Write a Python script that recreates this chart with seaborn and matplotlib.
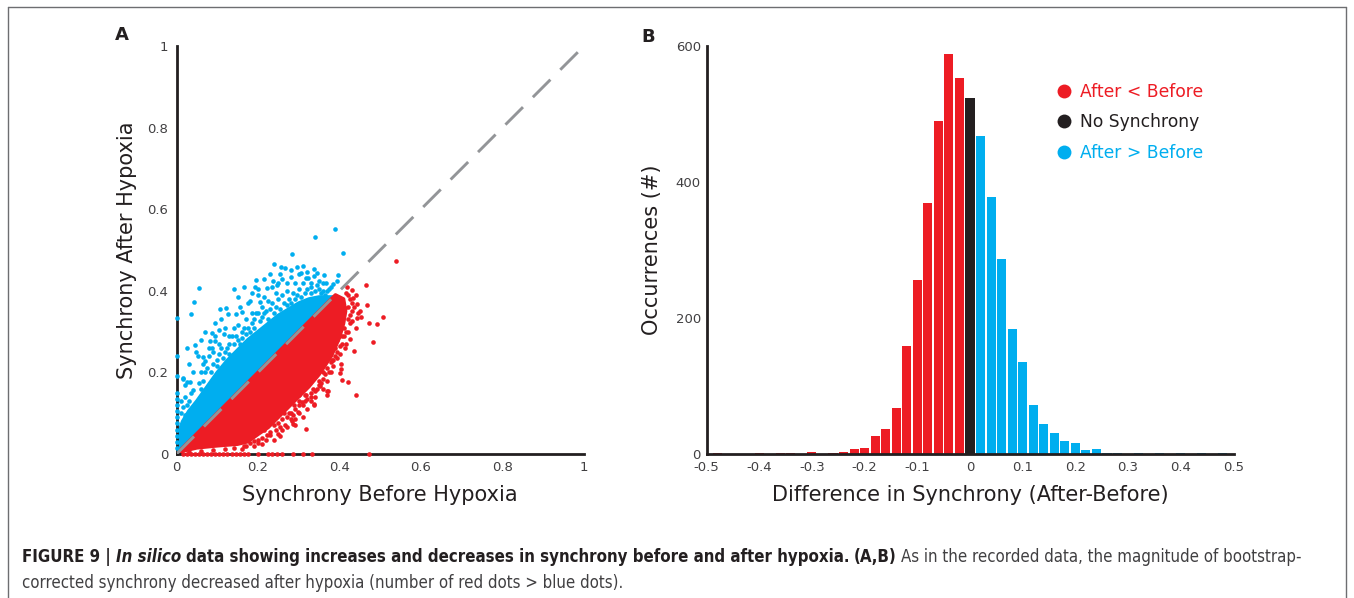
import numpy as np
import pandas as pd
import matplotlib
matplotlib.use("Agg")
import matplotlib.pyplot as plt
import seaborn as sns
from matplotlib.lines import Line2D
from matplotlib import font_manager

# ---------------- data ----------------
RED = "#ED1C24"
BLUE = "#00AEEF"
BLACK = "#231F20"
GRAY = "#939598"

# Panel A: dense cores (edges)
blue_core_edge = [(0.004, 0.012), (0.004, 0.05), (0.015, 0.08), (0.03, 0.105), (0.05, 0.13),
                  (0.075, 0.165), (0.10, 0.20), (0.125, 0.23), (0.15, 0.255), (0.175, 0.28),
                  (0.20, 0.30), (0.225, 0.32), (0.25, 0.34), (0.275, 0.355), (0.30, 0.37),
                  (0.325, 0.38), (0.35, 0.385), (0.375, 0.385), (0.385, 0.385)]
red_core_edge = [(0.39, 0.39), (0.41, 0.38), (0.415, 0.35), (0.41, 0.32), (0.40, 0.285),
                 (0.38, 0.24), (0.35, 0.195), (0.325, 0.165), (0.30, 0.14), (0.275, 0.115),
                 (0.25, 0.09), (0.225, 0.065), (0.20, 0.048), (0.175, 0.03), (0.15, 0.024),
                 (0.10, 0.02), (0.05, 0.015), (0.02, 0.008), (0.008, 0.004)]

blue_points = [
    (0.000, 0.333), (0.000, 0.239), (0.000, 0.190), (0.000, 0.150), (0.000, 0.135), (0.000, 0.120),
    (0.000, 0.105), (0.000, 0.090), (0.000, 0.075), (0.000, 0.060), (0.000, 0.045), (0.000, 0.030),
    (0.000, 0.015), (0.035, 0.343), (0.043, 0.373), (0.054, 0.407), (0.045, 0.267), (0.049, 0.250),
    (0.052, 0.239), (0.016, 0.186), (0.026, 0.177), (0.017, 0.185), (0.021, 0.169), (0.033, 0.177),
    (0.041, 0.157), (0.021, 0.140), (0.017, 0.116), (0.021, 0.096), (0.013, 0.071), (0.066, 0.238),
    (0.070, 0.228), (0.086, 0.259), (0.094, 0.276), (0.083, 0.276), (0.088, 0.296), (0.104, 0.304),
    (0.095, 0.289), (0.117, 0.294), (0.137, 0.288), (0.107, 0.355), (0.121, 0.359), (0.127, 0.342),
    (0.145, 0.343), (0.160, 0.347), (0.141, 0.404), (0.165, 0.410), (0.151, 0.386), (0.185, 0.395),
    (0.180, 0.375), (0.205, 0.372), (0.193, 0.410), (0.194, 0.426), (0.223, 0.407), (0.234, 0.410),
    (0.246, 0.414), (0.238, 0.424), (0.250, 0.420), (0.270, 0.418), (0.229, 0.440), (0.240, 0.466),
    (0.256, 0.459), (0.266, 0.457), (0.296, 0.459), (0.283, 0.489), (0.281, 0.435), (0.306, 0.443),
    (0.318, 0.431), (0.321, 0.445), (0.337, 0.454), (0.322, 0.432), (0.337, 0.436), (0.346, 0.443),
    (0.361, 0.439), (0.397, 0.439), (0.393, 0.424), (0.385, 0.416), (0.367, 0.419), (0.389, 0.551),
    (0.340, 0.532), (0.408, 0.493), (0.060, 0.200), (0.075, 0.210), (0.100, 0.230), (0.120, 0.250),
    (0.130, 0.270), (0.150, 0.280), (0.160, 0.300), (0.175, 0.310), (0.190, 0.330), (0.200, 0.345),
    (0.210, 0.360), (0.220, 0.350), (0.235, 0.370), (0.250, 0.380), (0.260, 0.390), (0.270, 0.400),
    (0.285, 0.395), (0.300, 0.405), (0.310, 0.420), (0.330, 0.410), (0.350, 0.405), (0.360, 0.400),
    (0.375, 0.405), (0.110, 0.260), (0.140, 0.310), (0.170, 0.330), (0.215, 0.385), (0.245, 0.395),
    (0.290, 0.420), (0.040, 0.200), (0.055, 0.175), (0.030, 0.130), (0.080, 0.240), (0.200, 0.390),
    (0.260, 0.430), (0.310, 0.460), (0.350, 0.425), (0.380, 0.410), (0.120, 0.310), (0.090, 0.250),
    (0.010, 0.100), (0.010, 0.130), (0.025, 0.120), (0.035, 0.150), (0.045, 0.120), (0.060, 0.160),
    (0.065, 0.180), (0.070, 0.200), (0.085, 0.200), (0.090, 0.220), (0.100, 0.215), (0.105, 0.245),
    (0.115, 0.235), (0.125, 0.260), (0.130, 0.245), (0.140, 0.270), (0.145, 0.290), (0.155, 0.270),
    (0.160, 0.285), (0.165, 0.310), (0.170, 0.295), (0.180, 0.300), (0.185, 0.320), (0.190, 0.310),
    (0.195, 0.345), (0.205, 0.325), (0.210, 0.335), (0.215, 0.345), (0.225, 0.330), (0.230, 0.355),
    (0.240, 0.345), (0.245, 0.360), (0.255, 0.355), (0.265, 0.370), (0.270, 0.365), (0.275, 0.380),
    (0.280, 0.370), (0.290, 0.380), (0.295, 0.390), (0.305, 0.385), (0.315, 0.395), (0.320, 0.405),
    (0.330, 0.395), (0.340, 0.400), (0.345, 0.415), (0.355, 0.395), (0.365, 0.390), (0.370, 0.400),
    (0.225, 0.375), (0.185, 0.345), (0.150, 0.315), (0.130, 0.290), (0.105, 0.270), (0.065, 0.220),
    (0.080, 0.260), (0.095, 0.320), (0.110, 0.330), (0.155, 0.360), (0.175, 0.370), (0.200, 0.405),
    (0.215, 0.430), (0.255, 0.440), (0.280, 0.450), (0.300, 0.440), (0.330, 0.420), (0.360, 0.420),
    (0.060, 0.280), (0.070, 0.300), (0.030, 0.220), (0.025, 0.260),
]
red_points = [
    (0.538, 0.472), (0.465, 0.413), (0.419, 0.409), (0.430, 0.402), (0.467, 0.364), (0.442, 0.367),
    (0.434, 0.383), (0.413, 0.359), (0.453, 0.337), (0.444, 0.333), (0.473, 0.322), (0.493, 0.318),
    (0.507, 0.337), (0.482, 0.275), (0.436, 0.252), (0.426, 0.282), (0.405, 0.288), (0.404, 0.220),
    (0.404, 0.208), (0.402, 0.198), (0.405, 0.181), (0.422, 0.177), (0.440, 0.145), (0.369, 0.154),
    (0.370, 0.145), (0.340, 0.140), (0.319, 0.145), (0.337, 0.120), (0.317, 0.061), (0.382, 0.230),
    (0.353, 0.167), (0.255, 0.045), (0.287, 0.073), (0.301, 0.100), (0.280, 0.086), (0.338, 0.123),
    (0.371, 0.155), (0.414, 0.260), (0.283, 0.081), (0.266, 0.071), (0.291, 0.071), (0.254, 0.067),
    (0.270, 0.067), (0.229, 0.047), (0.221, 0.047), (0.246, 0.096), (0.262, 0.104), (0.288, 0.120),
    (0.299, 0.103), (0.307, 0.127), (0.180, 0.026), (0.189, 0.032), (0.410, 0.310), (0.420, 0.300),
    (0.430, 0.350), (0.420, 0.390), (0.415, 0.270), (0.395, 0.235), (0.380, 0.200), (0.360, 0.185),
    (0.345, 0.160), (0.330, 0.150), (0.315, 0.130), (0.300, 0.120), (0.275, 0.100), (0.260, 0.085),
    (0.240, 0.070), (0.215, 0.060), (0.200, 0.035), (0.390, 0.260), (0.400, 0.245), (0.370, 0.180),
    (0.350, 0.170), (0.320, 0.110), (0.310, 0.090), (0.240, 0.035), (0.165, 0.020), (0.210, 0.025),
    (0.450, 0.350), (0.425, 0.320), (0.440, 0.310), (0.385, 0.215), (0.360, 0.160),
    (0.030, 0.005), (0.060, 0.008), (0.090, 0.010), (0.120, 0.012), (0.140, 0.015), (0.160, 0.012),
    (0.170, 0.020), (0.190, 0.020), (0.200, 0.028), (0.220, 0.035), (0.230, 0.055), (0.245, 0.060),
    (0.250, 0.075), (0.260, 0.060), (0.270, 0.090), (0.280, 0.100), (0.285, 0.095), (0.290, 0.110),
    (0.300, 0.130), (0.310, 0.120), (0.315, 0.145), (0.320, 0.135), (0.330, 0.140), (0.335, 0.160),
    (0.340, 0.155), (0.350, 0.180), (0.355, 0.175), (0.360, 0.200), (0.365, 0.195), (0.370, 0.210),
    (0.375, 0.200), (0.380, 0.225), (0.385, 0.230), (0.390, 0.240), (0.395, 0.250), (0.400, 0.265),
    (0.405, 0.270), (0.410, 0.290), (0.415, 0.300), (0.420, 0.330), (0.425, 0.340), (0.420, 0.360),
    (0.425, 0.380), (0.415, 0.395), (0.430, 0.370), (0.435, 0.360), (0.445, 0.345), (0.330, 0.130),
    (0.290, 0.085), (0.250, 0.050), (0.210, 0.040), (0.235, 0.080), (0.265, 0.100), (0.300, 0.145),
    (0.340, 0.190), (0.375, 0.250), (0.395, 0.280), (0.430, 0.325), (0.440, 0.390), (0.400, 0.310),
]
red_zero_x = [0.015, 0.025, 0.035, 0.045, 0.055, 0.065, 0.075, 0.085, 0.095, 0.105, 0.115, 0.125,
              0.135, 0.145, 0.155, 0.165, 0.175, 0.200, 0.225, 0.234, 0.246, 0.258, 0.287, 0.310,
              0.333, 0.472]

# Panel B: histogram of differences (bin centres -0.50 .. 0.50, step 0.02)
diff_centers = np.round(np.linspace(-0.50, 0.50, 51), 2)
diff_counts = [0, 1, 0, 0, 0, 1, 0, 1, 1, 0,        # -0.50 .. -0.32
               3, 0, 2, 3, 8, 9, 26, 37, 68, 159,    # -0.30 .. -0.12
               256, 369, 490, 588, 553, 524,         # -0.10 .. 0.00
               468, 378, 287, 184, 135, 72, 44, 31, 19, 16, 6, 7,   # 0.02 .. 0.24
               1, 1, 0, 1, 0, 1, 0, 1, 0, 1, 0, 1, 0]               # 0.26 .. 0.50
hist_xticks = [-0.5, -0.4, -0.3, -0.2, -0.1, 0.0, 0.1, 0.2, 0.3, 0.4, 0.5]
hist_xticklabels = ["-0.5", "-0.4", "-0.3", "-0.2", "-0.1", "0", "0.1", "0.2", "0.3", "0.4", "0.5"]
hist_yticks = [0, 200, 400, 600]
scatter_ticks = [0, 0.2, 0.4, 0.6, 0.8, 1.0]
scatter_ticklabels = ["0", "0.2", "0.4", "0.6", "0.8", "1"]
legend_labels = ["After < Before", "No Synchrony", "After > Before"]

# ---------------- figure ----------------
sns.set_style("white")
plt.rcParams["font.family"] = ["DejaVu Sans"]
fig = plt.figure(figsize=(13.54, 5.98), dpi=100)
W, H = 1354, 598

ax1 = fig.add_axes([176.5 / W, (H - 454) / H, 407.5 / W, 408 / H])
ax2 = fig.add_axes([706.5 / W, (H - 454) / H, 527 / W, 408 / H])

# ---- Panel A ----
bx = [p[0] for p in blue_core_edge] + [0.385, 0.004]
by = [p[1] for p in blue_core_edge] + [0.385, 0.004]
ax1.fill(bx, by, color=BLUE, lw=2.5, joinstyle="round", zorder=1)
rx = [p[0] for p in red_core_edge] + [0.008]
ry = [p[1] for p in red_core_edge] + [0.008]
ax1.fill(rx, ry, color=RED, lw=2.5, joinstyle="round", zorder=1)

df_b = pd.DataFrame(blue_points, columns=["before", "after"])
df_r = pd.DataFrame(red_points, columns=["before", "after"])
df_r0 = pd.DataFrame({"before": red_zero_x, "after": [0.0] * len(red_zero_x)})
for d, c in [(df_b, BLUE), (df_r, RED), (df_r0, RED)]:
    sns.scatterplot(data=d, x="before", y="after", color=c, s=11, linewidth=0,
                    ax=ax1, clip_on=False, zorder=6)
ax1.axline((0, 0), slope=1, color=GRAY, lw=2.1, dashes=(8.5, 4.8), zorder=7)

ax1.set_xlim(0, 1)
ax1.set_ylim(0, 1)
ax1.set_xticks(scatter_ticks)
ax1.set_xticklabels(scatter_ticklabels)
ax1.set_yticks(scatter_ticks)
ax1.set_yticklabels(scatter_ticklabels)
ax1.set_xlabel("Synchrony Before Hypoxia", fontsize=15, color=BLACK, labelpad=8)
ax1.set_ylabel("Synchrony After Hypoxia", fontsize=15, color=BLACK, labelpad=7)

# ---- Panel B ----
groups = []
for c in diff_centers:
    if abs(c) < 1e-9:
        groups.append("No Synchrony")
    elif c < 0:
        groups.append("After < Before")
    else:
        groups.append("After > Before")
df_h = pd.DataFrame({"diff": diff_centers, "count": diff_counts, "group": groups})
palette = {"After < Before": RED, "No Synchrony": BLACK, "After > Before": BLUE}
sns.histplot(data=df_h, x="diff", weights="count", hue="group", binwidth=0.02,
             binrange=(-0.51, 0.51), palette=palette, hue_order=legend_labels, alpha=1,
             linewidth=0, shrink=0.86, legend=False, ax=ax2, zorder=2)
ax2.set_xlim(-0.5, 0.5)
ax2.set_ylim(0, 600)
ax2.set_xticks(hist_xticks)
ax2.set_xticklabels(hist_xticklabels)
ax2.set_yticks(hist_yticks)
ax2.set_yticklabels([str(v) for v in hist_yticks])
ax2.set_xlabel("Difference in Synchrony (After-Before)", fontsize=15, color=BLACK, labelpad=8)
ax2.set_ylabel("Occurrences (#)", fontsize=15, color=BLACK, labelpad=10)

handles = [Line2D([], [], ls="", marker="o", markersize=10, color=c, markeredgewidth=0)
           for c in [RED, BLACK, BLUE]]
ax2.legend(handles, legend_labels, loc="upper left", bbox_to_anchor=(0.643, 0.93),
           frameon=False, fontsize=12.3, labelcolor=[RED, BLACK, BLUE],
           handletextpad=0.3, labelspacing=0.72, handlelength=1.2, borderpad=0)

for ax, pad in [(ax1, 6), (ax2, 4)]:
    for s in ["top", "right"]:
        ax.spines[s].set_visible(False)
    for s in ["left", "bottom"]:
        ax.spines[s].set_color(BLACK)
        ax.spines[s].set_linewidth(2.0)
        ax.spines[s].set_zorder(5)
    ax.tick_params(axis="both", direction="in", length=4, width=2, color=BLACK,
                   labelsize=9.5, labelcolor="#414042")
    ax.tick_params(axis="y", pad=pad)
    ax.tick_params(axis="x", pad=5)
    ax.grid(False)

# panel letters
fig.text(122 / W, 1 - 35 / H, "A", fontsize=13, fontweight="bold", color=BLACK,
         ha="center", va="center")
fig.text(648 / W, 1 - 37 / H, "B", fontsize=13, fontweight="bold", color=BLACK,
         ha="center", va="center")

# frame
frame_kw = dict(color="#6D6E71", lw=1.0, transform=fig.transFigure)
fig.add_artist(Line2D([8 / W, 8 / W], [0, 1 - 7 / H], **frame_kw))
fig.add_artist(Line2D([1346 / W, 1346 / W], [0, 1 - 7 / H], **frame_kw))
fig.add_artist(Line2D([8 / W, 1346 / W], [1 - 7 / H, 1 - 7 / H], **frame_kw))

# caption
names = {f.name for f in font_manager.fontManager.ttflist}
cond_dejavu = any(f.name == "DejaVu Sans" and str(f.stretch) in ("condensed", "semi-condensed")
                  for f in font_manager.fontManager.ttflist)
if "Liberation Sans Narrow" in names:
    cap_family, cap_stretch = "Liberation Sans Narrow", "normal"
elif cond_dejavu:
    cap_family, cap_stretch = "DejaVu Sans", "condensed"
else:
    cap_family, cap_stretch = "Liberation Sans", "normal"
line1 = [("FIGURE 9 |", "bold", "normal"), ("In silico", "bold", "italic"),
         ("data showing increases and decreases in synchrony before and after hypoxia.", "bold", "normal"),
         ("(A,B)", "bold", "normal"),
         ("As in the recorded data, the magnitude of bootstrap-", "normal", "normal")]
line2 = [("corrected synchrony decreased after hypoxia (number of red dots > blue dots).", "normal", "normal")]

renderer = fig.canvas.get_renderer()


def text_width(s, fs, weight, style):
    t = fig.text(0, 0, s, fontsize=fs, fontweight=weight, fontstyle=style, family=cap_family,
                 fontstretch=cap_stretch)
    w = t.get_window_extent(renderer).width
    t.remove()
    return w


def line_width(pieces, fs):
    sp = text_width("a a", fs, "normal", "normal") - text_width("aa", fs, "normal", "normal")
    return sum(text_width(p[0], fs, p[1], p[2]) for p in pieces) + sp * (len(pieces) - 1), sp


fs0 = 10.0
w0, _ = line_width(line1, fs0)
cap_fs = fs0 * (1283.0 / w0)


def draw_line(pieces, y_px, fs):
    _, sp = line_width(pieces, fs)
    x = 22.0
    for s, weight, style in pieces:
        col = BLACK if weight == "bold" else "#414042"
        t = fig.text(x / W, 1 - y_px / H, s, fontsize=fs, fontweight=weight, fontstyle=style,
                     family=cap_family, fontstretch=cap_stretch, color=col, va="baseline")
        x += t.get_window_extent(renderer).width + sp


draw_line(line1, 562, cap_fs)
draw_line(line2, 588, cap_fs)

fig.savefig("out.png", dpi=100)
